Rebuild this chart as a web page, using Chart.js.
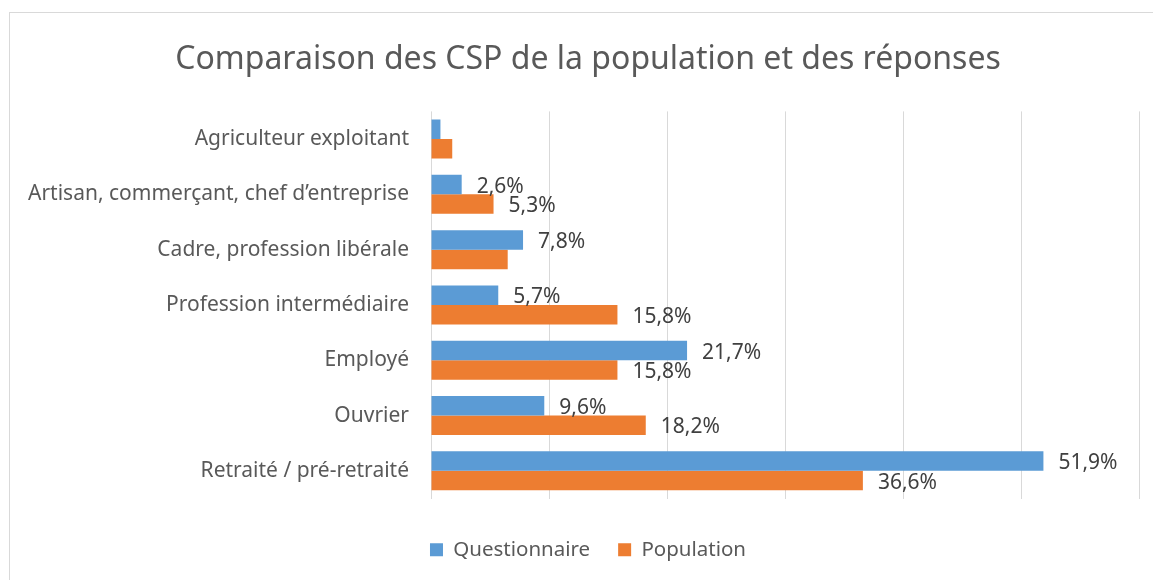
<!DOCTYPE html>
<html lang="fr">
<head>
<meta charset="utf-8">
<title>Comparaison des CSP</title>
<script src="https://cdn.jsdelivr.net/npm/chart.js@4.4.1/dist/chart.umd.min.js"></script>
<style>
  html, body { margin: 0; padding: 0; background: #fff; }
  #wrap { position: relative; width: 1153px; height: 580px; overflow: hidden; }
  #frame { position: absolute; left: 9px; top: 12px; width: 1200px; height: 600px; border: 1px solid #d9d9d9; box-sizing: border-box; }
  #csp-chart { position: absolute; left: 0; top: 0; }
</style>
</head>
<body>
<div id="wrap">
  <div id="frame"></div>
  <!-- the original frame runs past the right edge, so the canvas does too -->
  <canvas id="csp-chart" width="1176" height="580"></canvas>
</div>
<script>
const categories = [
  'Agriculteur exploitant',
  'Artisan, commerçant, chef d\u2019entreprise',
  'Cadre, profession libérale',
  'Profession intermédiaire',
  'Employé',
  'Ouvrier',
  'Retraité / pré-retraité'
];
const questionnaire = [0.8, 2.6, 7.8, 5.7, 21.7, 9.6, 51.9];
const population = [1.8, 5.3, 6.5, 15.8, 15.8, 18.2, 36.6];
// which bars carry a value label in the original
const questionnaireLabels = [false, true, true, true, true, true, true];
const populationLabels = [false, true, false, true, true, true, true];
const xMax = 60;
const xStep = 10;

Chart.defaults.font.family = '"Noto Sans", sans-serif';

const fmt = v => v.toFixed(1).replace('.', ',') + '%';

// value labels drawn right after the end of each bar
const barLabels = {
  id: 'barLabels',
  afterDatasetsDraw(chart) {
    const ctx = chart.ctx;
    ctx.save();
    ctx.font = '21px "Noto Sans"';
    ctx.fillStyle = '#404040';
    ctx.textAlign = 'left';
    ctx.textBaseline = 'alphabetic';
    chart.data.datasets.forEach((ds, i) => {
      chart.getDatasetMeta(i).data.forEach((bar, j) => {
        if (!ds.showLabel[j]) return;
        ctx.fillText(fmt(ds.data[j]), bar.x + 15, bar.y + 8);
      });
    });
    ctx.restore();
  }
};

new Chart(document.getElementById('csp-chart'), {
  type: 'bar',
  data: {
    labels: categories,
    datasets: [
      {
        label: 'Questionnaire',
        data: questionnaire,
        showLabel: questionnaireLabels,
        backgroundColor: '#5b9bd5',
        borderWidth: 0,
        categoryPercentage: 0.705,
        barPercentage: 1
      },
      {
        label: 'Population',
        data: population,
        showLabel: populationLabels,
        backgroundColor: '#ed7d31',
        borderWidth: 0,
        categoryPercentage: 0.705,
        barPercentage: 1
      }
    ]
  },
  options: {
    indexAxis: 'y',
    responsive: false,
    animation: false,
    layout: { padding: { left: 0, right: 0, top: 0, bottom: 10 } },
    scales: {
      x: {
        min: 0,
        max: xMax,
        ticks: { display: false, stepSize: xStep },
        grid: { color: '#d9d9d9', lineWidth: 1, drawTicks: false },
        border: { display: false },
        afterFit(scale) { scale.height = 13; }
      },
      y: {
        ticks: { color: '#595959', font: { size: 21 }, padding: 22 },
        grid: { display: false, drawTicks: false },
        border: { display: false },
        afterFit(scale) { scale.width = 431; }
      },
      // empty right-hand margin so the plot stops at the last gridline
      yRight: {
        type: 'category',
        position: 'right',
        ticks: { display: false },
        grid: { display: false, drawTicks: false },
        border: { display: false },
        afterFit(scale) { scale.width = 37; }
      }
    },
    plugins: {
      title: {
        display: true,
        text: 'Comparaison des CSP de la population et des réponses',
        color: '#595959',
        font: { size: 32, weight: 'normal' },
        padding: { top: 41, bottom: 32 }
      },
      legend: {
        position: 'bottom',
        labels: {
          color: '#595959',
          font: { size: 20.5 },
          boxWidth: 13,
          boxHeight: 13,
          padding: 28
        }
      },
      tooltip: { enabled: false }
    }
  },
  plugins: [barLabels]
});
</script>
</body>
</html>
